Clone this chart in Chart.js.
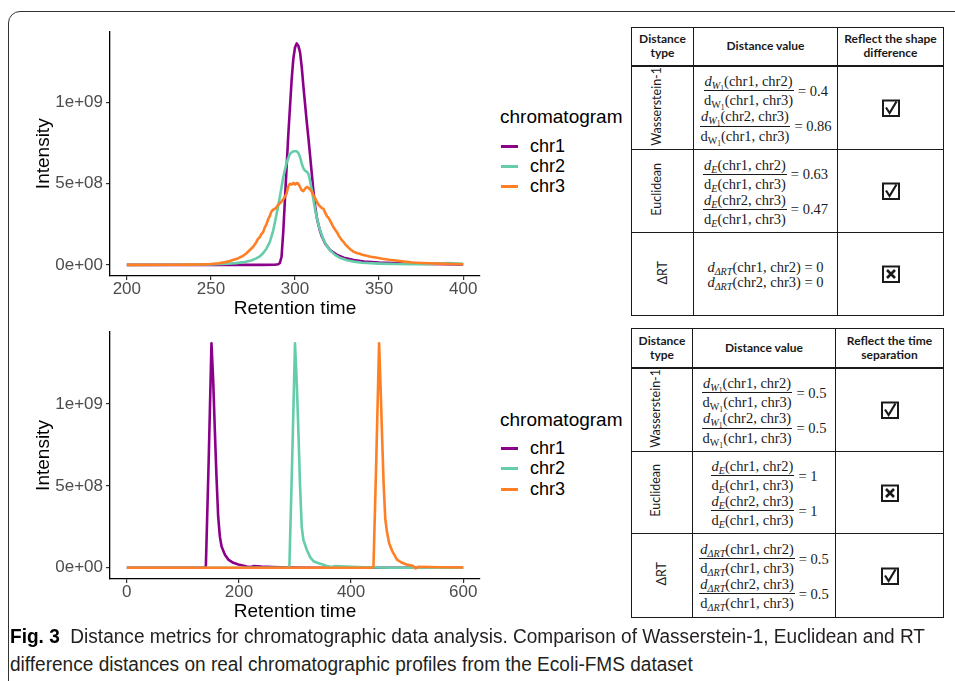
<!DOCTYPE html>
<html><head><meta charset="utf-8">
<script src="https://cdn.jsdelivr.net/npm/chart.js@4/dist/chart.umd.min.js"></script>
<style>
html,body{margin:0;padding:0;background:#fff;}
body{width:955px;height:681px;overflow:hidden;position:relative;font-family:"Liberation Sans",Arial,sans-serif;}
#frame{position:absolute;left:8px;top:11px;width:1000px;height:720px;border:1.3px solid #333;border-radius:12px;box-sizing:border-box;}
canvas{position:absolute;}
.leg{position:absolute;left:500px;color:#000;}
.leg .ttl{position:absolute;left:0;font-size:19px;line-height:22px;white-space:nowrap;}
.leg .it{position:absolute;left:0;height:20px;white-space:nowrap;}
.leg .sw{position:absolute;left:1px;top:9px;width:17px;height:2.6px;}
.leg .lb{position:absolute;left:30px;top:0;font-size:18px;line-height:20px;}
table.dt{position:absolute;border-collapse:collapse;table-layout:fixed;color:#1a1a1a;}
table.dt td{border:1.5px solid #1a1a1a;text-align:center;vertical-align:middle;padding:0;}
table.dt tr.hd td{font-family:Lato,"Noto Sans",sans-serif;font-weight:bold;font-size:12px;line-height:14px;border-bottom-width:2.5px;}
.rot{writing-mode:vertical-rl;transform:rotate(180deg);display:inline-block;font-family:Lato,"Noto Sans",sans-serif;font-size:12.5px;line-height:14px;}
.eq{display:inline-flex;align-items:center;font-family:"Liberation Serif","DejaVu Serif",serif;font-size:14.5px;line-height:16px;}
.fr{display:inline-flex;flex-direction:column;align-items:center;}
.fr .nu{border-bottom:1px solid #1a1a1a;padding:0 1px 1px 1px;white-space:nowrap;}
.fr .de{padding:1px 1px 0 1px;white-space:nowrap;}
.rh{margin-left:4px;white-space:nowrap;}
.eq sub{font-size:70%;vertical-align:-0.3em;line-height:0;}
.eq sub sub{font-size:75%;}
.stack{display:inline-flex;flex-direction:column;align-items:center;gap:0px;}
.line{font-family:"Liberation Serif","DejaVu Serif",serif;font-size:14.5px;line-height:15px;white-space:nowrap;}
.line sub{font-size:70%;vertical-align:-0.3em;line-height:0;}
.cap{position:absolute;left:10px;white-space:nowrap;font-family:"Liberation Sans Narrow","Liberation Sans",sans-serif;font-size:20px;line-height:22px;color:#231f20;transform-origin:0 50%;}
.cap b{color:#000;}
</style>
</head>
<body>
<div id="frame"></div>
<canvas id="c1" width="490" height="310" style="left:0;top:20px;width:490px;height:310px"></canvas>
<canvas id="c2" width="490" height="310" style="left:0;top:320px;width:490px;height:310px"></canvas>
<div id="leg1" class="leg" style="top:0"></div>
<div id="leg2" class="leg" style="top:0"></div>
<div id="t1"></div>
<div id="t2"></div>
<div id="cap1" class="cap" style="top:625px"><b>Fig. 3</b>&nbsp; Distance metrics for chromatographic data analysis. Comparison of Wasserstein-1, Euclidean and RT</div>
<div id="cap2" class="cap" style="top:653px">difference distances on real chromatographic profiles from the Ecoli-FMS dataset</div>
<script>
// ---------- DATA ----------
const seriesNames = ['chr1', 'chr2', 'chr3'];
const seriesColors = ['#8B008B', '#66CDAA', '#FF7F24'];
const legendTitle = 'chromatogram';
const xTitle = 'Retention time';
const yTitle = 'Intensity';
// intensity values are in units of 1e9
const yTickValues = [0, 0.5, 1];
const yTickLabels = ['0e+00', '5e+08', '1e+09'];
const topXTicks = [200, 250, 300, 350, 400];
const bottomXTicks = [0, 200, 400, 600];

// top panel: [retention time, intensity (1e9)]
const top_chr1 = [[200,0],[250,0],[280,0],[288,0.001],[290,0.004],[291,0.012],[292,0.05],[293,0.2],[294,0.4],[295,0.6],[296,0.8],[297,0.97],[298,1.14],[299,1.27],[300,1.34],[301,1.365],[302,1.35],[303,1.31],[304,1.22],[305,1.1],[306,0.99],[307,0.88],[308,0.78],[309,0.67],[310,0.56],[311,0.45],[312,0.36],[313,0.29],[314,0.245],[315,0.205],[316,0.175],[318,0.13],[321,0.09],[325,0.062],[329,0.044],[335,0.03],[341,0.021],[350,0.015],[362,0.01],[380,0.006],[400,0.003]];
const top_chr2 = [[200,0],[230,0.001],[250,0.003],[260,0.007],[265,0.011],[270,0.018],[274,0.027],[277,0.04],[279,0.052],[281,0.072],[283,0.1],[285,0.14],[287,0.21],[289,0.31],[291,0.42],[293,0.54],[295,0.63],[297,0.685],[299,0.7],[301,0.7],[302,0.69],[303,0.665],[304,0.625],[305,0.595],[306,0.58],[307,0.575],[308,0.56],[309,0.515],[310,0.46],[311,0.4],[312,0.34],[313,0.29],[314,0.245],[315,0.21],[317,0.155],[319,0.115],[321,0.088],[324,0.06],[327,0.042],[331,0.028],[335,0.02],[340,0.013],[350,0.008],[360,0.005],[370,0.004],[380,0.005],[386,0.008],[391,0.011],[396,0.009],[400,0.006]];
const top_chr3 = [[200,0],[230,0.001],[245,0.003],[250,0.005],[255,0.01],[260,0.02],[263,0.03],[266,0.04],[269,0.055],[271,0.07],[273,0.09],[275,0.11],[277,0.14],[278,0.16],[279,0.17],[280,0.19],[281,0.2],[282,0.23],[283,0.25],[284,0.28],[285,0.3],[286,0.33],[287,0.34],[288,0.345],[289,0.355],[290,0.37],[291,0.38],[292,0.39],[293,0.405],[294,0.42],[295,0.44],[296,0.485],[297,0.5],[298,0.495],[299,0.505],[300,0.495],[301,0.505],[302,0.5],[303,0.48],[304,0.46],[305,0.455],[306,0.47],[307,0.48],[308,0.475],[309,0.465],[310,0.45],[311,0.43],[312,0.41],[313,0.39],[314,0.37],[315,0.36],[316,0.35],[317,0.345],[318,0.32],[319,0.3],[320,0.29],[321,0.27],[322,0.25],[323,0.23],[324,0.215],[325,0.2],[326,0.18],[327,0.165],[328,0.15],[329,0.14],[330,0.125],[331,0.115],[332,0.105],[333,0.095],[334,0.088],[335,0.08],[336,0.076],[337,0.072],[338,0.07],[340,0.063],[342,0.058],[345,0.05],[348,0.045],[352,0.038],[356,0.032],[360,0.027],[365,0.02],[370,0.015],[375,0.012],[380,0.01],[385,0.008],[390,0.006],[395,0.005],[400,0.004]];

// bottom panel
const bot_chr1 = [[0,0],[138,0],[141,0.01],[146,0.65],[151,1.37],[154,1.15],[157,0.84],[160,0.55],[163,0.31],[166,0.19],[169,0.13],[175,0.08],[181,0.05],[190,0.03],[199,0.02],[214,0.008],[220,0.004],[226,0.01],[240,0.007],[260,0.005],[290,0.002],[320,0],[600,0]];
const bot_chr2 = [[0,0],[287,0],[290,0.01],[295,0.66],[300,1.37],[303,1.14],[306,0.84],[309,0.5],[312,0.25],[315,0.17],[321,0.11],[327,0.065],[333,0.04],[342,0.028],[351,0.018],[357,0.01],[365,0.004],[372,0.01],[390,0.007],[410,0.005],[440,0.002],[470,0],[600,0]];
const bot_chr3 = [[0,0],[437,0],[440,0.01],[445,0.66],[450,1.37],[452.5,1.12],[455,0.84],[458,0.52],[461,0.3],[464,0.22],[468,0.15],[473,0.105],[482,0.05],[490,0.032],[499,0.02],[511,0.01],[515,-0.004],[520,0.006],[540,0.005],[560,0.003],[600,0.002]];

// tables
const tableTopHeader = ['Distance<br>type', 'Distance value', 'Reflect the shape<br>difference'];
const tableBotHeader = ['Distance<br>type', 'Distance value', 'Reflect the time<br>separation'];
const distanceTypes = ['Wasserstein-1', 'Euclidean', 'ΔRT'];
const pairs = ['chr1, chr2', 'chr2, chr3'];
const topValues = [['0.4', '0.86'], ['0.63', '0.47'], ['0', '0']];
const botValues = [['0.5', '0.5'], ['1', '1'], ['0.5', '0.5']];
const topReflect = [true, true, false];
const botReflect = [true, false, true];

// ---------- CHARTS ----------
function makeChart(id, series, xMin, xMax, xTicks, padTop, xScaleH, titlePadBottom) {
  const datasets = series.map((s, k) => ({
    label: seriesNames[k],
    data: s.map(p => ({x: p[0], y: p[1]})),
    borderColor: seriesColors[k],
    borderWidth: 2.6,
    pointRadius: 0,
    tension: 0,
    fill: false,
    borderJoinStyle: 'round',
    order: 3 - k
  }));
  return new Chart(document.getElementById(id), {
    type: 'line',
    data: {datasets},
    options: {
      responsive: false, animation: false, devicePixelRatio: 1, events: [],
      layout: {padding: {top: padTop, right: 10, left: 0, bottom: 0}},
      plugins: {legend: {display: false}, tooltip: {enabled: false}},
      scales: {
        x: {
          type: 'linear', min: xMin, max: xMax,
          afterBuildTicks: s => { s.ticks = xTicks.map(v => ({value: v})); },
          afterFit: s => { s.height = xScaleH; },
          grid: {display: true, drawOnChartArea: false, drawTicks: true, tickLength: 4, color: '#333', lineWidth: 1.2},
          border: {display: true, color: '#000', width: 1.3},
          ticks: {autoSkip: false, maxRotation: 0, padding: 1, color: '#4d4d4d', font: {family: 'Liberation Sans', size: 17, lineHeight: 1}, callback: v => String(v)},
          title: {display: true, text: xTitle, color: '#000', font: {family: 'Liberation Sans', size: 19, lineHeight: 1.2}, padding: {top: 0, bottom: titlePadBottom}}
        },
        y: {
          type: 'linear', min: -0.0685, max: 1.4385,
          afterBuildTicks: s => { s.ticks = yTickValues.map(v => ({value: v})); },
          afterFit: s => { s.width = 110; },
          grid: {display: true, drawOnChartArea: false, drawTicks: true, tickLength: 4, color: '#333', lineWidth: 1.2},
          border: {display: true, color: '#000', width: 1.3},
          ticks: {padding: 3, color: '#4d4d4d', font: {family: 'Liberation Sans', size: 17, lineHeight: 1}, callback: (v, i) => yTickLabels[i]},
          title: {display: true, text: yTitle, color: '#000', font: {family: 'Liberation Sans', size: 19, lineHeight: 1.2}, padding: {top: 32, bottom: 0}}
        }
      }
    }
  });
}
makeChart('c1', [top_chr1, top_chr2, top_chr3], 190, 410, topXTicks, 8, 54, 9.6);
makeChart('c2', [bot_chr1, bot_chr2, bot_chr3], -30, 630, bottomXTicks, 12, 51, 6.9);

// ---------- LEGENDS ----------
function makeLegend(id, titleCenterY, itemCenters) {
  const el = document.getElementById(id);
  let h = `<div class="ttl" style="top:${titleCenterY - 11}px">${legendTitle}</div>`;
  seriesNames.forEach((n, k) => {
    h += `<div class="it" style="top:${itemCenters[k] - 10}px"><div class="sw" style="background:${seriesColors[k]}"></div><div class="lb">${n}</div></div>`;
  });
  el.innerHTML = h;
}
makeLegend('leg1', 117, [146, 166, 186]);
makeLegend('leg2', 420, [448, 468, 489]);

// ---------- TABLES ----------
function dsym(type, italic) {
  let sub;
  if (type === 'Wasserstein-1') sub = italic ? '<i>W</i><sub>1</sub>' : 'W<sub>1</sub>';
  else if (type === 'Euclidean') sub = '<i>E</i>';
  else sub = '<i>ΔRT</i>';
  return (italic ? '<i>d</i>' : 'd') + '<sub>' + sub + '</sub>';
}
function fracEq(type, pair, val) {
  return `<div class="eq"><div class="fr"><div class="nu">${dsym(type, true)}(${pair})</div><div class="de">${dsym(type, false)}(chr1, chr3)</div></div><div class="rh">= ${val}</div></div>`;
}
function checkBox(ok) {
  const mark = ok ? '<path d="M4 8.5 L7.6 14 L14.5 2.5" fill="none" stroke="#1a1a1a" stroke-width="2.2" stroke-linejoin="miter"/>'
                  : '<path d="M5 5 L13 13 M13 5 L5 13" fill="none" stroke="#1a1a1a" stroke-width="2.6"/>';
  return `<svg width="18" height="18" viewBox="0 0 18 18" style="display:block;margin:auto"><rect x="1" y="1.5" width="16" height="15.5" fill="none" stroke="#1a1a1a" stroke-width="2"/>${mark}</svg>`;
}
function makeTable(id, left, top, colW, rowH, header, values, reflect, deltaInline) {
  let h = `<table class="dt" style="left:${left}px;top:${top}px;width:${colW.reduce((a,b)=>a+b,0)}px">`;
  h += '<colgroup>' + colW.map(w => `<col style="width:${w}px">`).join('') + '</colgroup>';
  h += `<tr class="hd" style="height:${rowH[0]}px">` + header.map(t => `<td>${t}</td>`).join('') + '</tr>';
  distanceTypes.forEach((dt, r) => {
    let cell;
    if (dt === 'ΔRT' && deltaInline) {
      cell = '<div class="stack">' + pairs.map((p, k) => `<div class="line">${dsym(dt, true)}(${p}) = ${values[r][k]}</div>`).join('') + '</div>';
    } else {
      cell = '<div class="stack">' + pairs.map((p, k) => fracEq(dt, p, values[r][k])).join('') + '</div>';
    }
    const shift = dt === 'ΔRT' ? '' : 'margin-right:12px;';
    h += `<tr style="height:${rowH[r + 1]}px"><td><span class="rot" style="${shift}">${dt}</span></td><td>${cell}</td><td>${checkBox(reflect[r])}</td></tr>`;
  });
  h += '</table>';
  document.getElementById(id).innerHTML = h;
}
makeTable('t1', 631, 27, [62, 144, 106], [38, 83, 83, 83], tableTopHeader, topValues, topReflect, true);
makeTable('t2', 631, 328, [61, 143, 108], [39, 83, 82, 84], tableBotHeader, botValues, botReflect, false);

// ---------- CAPTION FIT ----------
(function () {
  const c1 = document.getElementById('cap1'), c2 = document.getElementById('cap2');
  const w = c1.getBoundingClientRect().width;
  const s = 915 / w;
  c1.style.transform = `scaleX(${s})`;
  c2.style.transform = `scaleX(${s})`;
})();
</script>
</body></html>
